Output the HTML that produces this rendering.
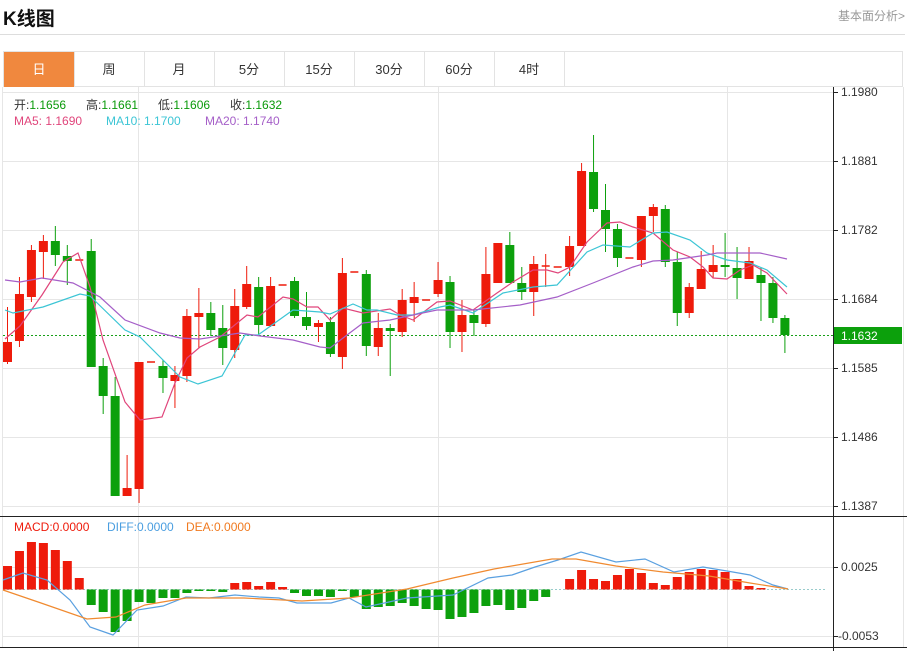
<!DOCTYPE html>
<html><head><meta charset="utf-8"><style>
body{margin:0;width:907px;height:651px;background:#fff;overflow:hidden;font-family:"Liberation Sans","Noto Sans CJK SC",sans-serif;position:relative}
.t{position:absolute;white-space:nowrap}
.tab{position:absolute;top:52px;height:35px;width:70px;line-height:35px;text-align:center;font-size:13px;color:#333;border-right:1px solid #e3e3e3}
.g{color:#0a9a0a}
</style></head><body>
<div class="t" style="left:3px;top:4px;font-size:19px;font-weight:bold;color:#111">K线图</div>
<div class="t" style="right:2px;top:7px;font-size:12px;color:#999">基本面分析&gt;</div>
<div style="position:absolute;left:0;top:34px;width:905px;height:1px;background:#ddd"></div>
<div style="position:absolute;left:3px;top:51px;width:900px;height:36px;border:1px solid #e3e3e3;box-sizing:border-box"></div>
<div class="tab" style="left:4px;background:#f0883e;color:#fff">日</div>
<div class="tab" style="left:74px">周</div>
<div class="tab" style="left:144px">月</div>
<div class="tab" style="left:214px">5分</div>
<div class="tab" style="left:284px">15分</div>
<div class="tab" style="left:354px">30分</div>
<div class="tab" style="left:424px">60分</div>
<div class="tab" style="left:494px">4时</div>
<svg id="s" width="907" height="651" style="position:absolute;left:0;top:0" xmlns="http://www.w3.org/2000/svg">
<g stroke="#e6e6e6" stroke-width="1">
<line x1="3" y1="92.5" x2="833" y2="92.5"/><line x1="3" y1="161.5" x2="833" y2="161.5"/><line x1="3" y1="230.5" x2="833" y2="230.5"/><line x1="3" y1="299.5" x2="833" y2="299.5"/><line x1="3" y1="368.5" x2="833" y2="368.5"/><line x1="3" y1="437.5" x2="833" y2="437.5"/><line x1="3" y1="506.5" x2="833" y2="506.5"/>
<line x1="3" y1="567.5" x2="833" y2="567.5"/><line x1="3" y1="636.5" x2="833" y2="636.5"/>
<line x1="138.5" y1="87" x2="138.5" y2="647"/><line x1="438.5" y1="87" x2="438.5" y2="647"/><line x1="727.5" y1="87" x2="727.5" y2="647"/>
<line x1="2.5" y1="87" x2="2.5" y2="647"/><line x1="903.5" y1="87" x2="903.5" y2="647"/>
</g>
<line x1="833.5" y1="87" x2="833.5" y2="651" stroke="#222"/>
<line x1="0" y1="516.5" x2="907" y2="516.5" stroke="#222"/>
<line x1="0" y1="647.5" x2="907" y2="647.5" stroke="#222"/>
<g stroke="#222"><line x1="833" y1="92.5" x2="838" y2="92.5"/><line x1="833" y1="161.5" x2="838" y2="161.5"/><line x1="833" y1="230.5" x2="838" y2="230.5"/><line x1="833" y1="299.5" x2="838" y2="299.5"/><line x1="833" y1="368.5" x2="838" y2="368.5"/><line x1="833" y1="437.5" x2="838" y2="437.5"/><line x1="833" y1="506.5" x2="838" y2="506.5"/><line x1="833" y1="567.5" x2="838" y2="567.5"/><line x1="833" y1="636.5" x2="838" y2="636.5"/></g>
<g font-size="12" fill="#333" font-family="Liberation Sans,sans-serif">
<text x="841" y="96">1.1980</text><text x="841" y="165">1.1881</text><text x="841" y="234">1.1782</text><text x="841" y="303">1.1684</text><text x="841" y="372">1.1585</text><text x="841" y="441">1.1486</text><text x="841" y="510">1.1387</text><text x="841" y="571">0.0025</text><text x="838" y="640">-0.0053</text>
</g>
<line x1="3" y1="335.5" x2="833" y2="335.5" stroke="#18a018" stroke-dasharray="2,2"/>
<line x1="3" y1="589.5" x2="826" y2="589.5" stroke="#9cc" stroke-dasharray="2,2"/>
<rect x="834" y="327" width="68" height="17" fill="#0ca00c"/>
<text x="841" y="340" font-size="12" fill="#fff">1.1632</text>
<g id="c"></g><g id="m"></g>
</svg>
<div class="t" style="left:14px;top:96px;font-size:12px;color:#333">开:<span class="g">1.1656</span></div>
<div class="t" style="left:86px;top:96px;font-size:12px;color:#333">高:<span class="g">1.1661</span></div>
<div class="t" style="left:158px;top:96px;font-size:12px;color:#333">低:<span class="g">1.1606</span></div>
<div class="t" style="left:230px;top:96px;font-size:12px;color:#333">收:<span class="g">1.1632</span></div>
<div class="t" style="left:14px;top:114px;font-size:12px;color:#e0457b">MA5: 1.1690</div>
<div class="t" style="left:106px;top:114px;font-size:12px;color:#3cc5d5">MA10: 1.1700</div>
<div class="t" style="left:205px;top:114px;font-size:12px;color:#a55fc8">MA20: 1.1740</div>
<div class="t" style="left:14px;top:520px;font-size:12px;color:#ee1b0b">MACD:0.0000</div>
<div class="t" style="left:107px;top:520px;font-size:12px;color:#4a9ee0">DIFF:0.0000</div>
<div class="t" style="left:186px;top:520px;font-size:12px;color:#f07a20">DEA:0.0000</div>
<script>
var R="#ee1b0b",G="#0ca00c";
var C=[["r",342,362,307,364],["r",294,341,277,347],["r",250,297,245,302],["r",241,252,235,279],["g",241,255,226,266],["g",256,261,245,285],["d",260],["g",251,367,239,367],["g",366,396,358,414],["g",396,496,377,496],["r",488,496,455,496],["r",362,489,362,503],["d",362],["g",366,378,360,393],["r",375,381,366,408],["r",316,376,309,382],["r",313,317,288,348],["g",313,330,302,336],["g",328,348,305,365],["r",306,350,289,358],["r",284,307,266,309],["g",287,325,277,335],["r",286,326,277,327],["d",285],["g",281,316,277,318],["g",317,326,292,330],["r",323,327,320,342],["g",322,354,317,357],["r",273,357,258,369],["d",272],["g",274,346,270,356],["r",328,347,313,356],["g",328,331,324,376],["r",300,332,289,337],["r",297,303,282,322],["d",300],["r",280,294,262,297],["g",282,332,276,348],["r",315,332,300,352],["g",315,323,310,336],["r",274,324,247,327],["r",243,283,243,283],["g",245,283,232,283],["g",283,292,267,300],["r",264,292,256,316],["d",266,254,287],["d",267],["r",246,267,236,276],["r",171,246,163,246],["g",172,209,135,212],["g",210,229,184,252],["g",229,258,224,267],["d",258],["r",216,260,216,267],["r",207,216,204,232],["g",209,262,205,267],["g",262,313,252,326],["r",287,313,283,318],["r",269,289,251,289],["r",265,272,245,278],["g",265,267,233,277],["g",268,278,247,299],["r",261,279,247,279],["g",275,283,267,321],["g",283,318,277,323],["g",318,335,315,353]];
var M=[566,551,542,543,550,561,578,605,612,632,621,602,603,598,598,593,591,591,592,583,582,586,582,587,593,596,596,597,591,597,609,607,606,603,606,609,610,619,617,613,606,605,610,608,601,597,589.5,579,570,579,581,575,569,573,583,585,577,572,569,570,572,579,586,588,589,589];
var h="";function X(i){return 7.5+i*11.96}
C.forEach(function(c,i){var x=X(i);
 if(c[0]=="d"){h+='<line x1="'+(x-4)+'" x2="'+(x+4)+'" y1="'+c[1]+'" y2="'+c[1]+'" stroke="'+R+'" stroke-width="1.5"/>';if(c[2])h+='<line x1="'+x+'" x2="'+x+'" y1="'+c[2]+'" y2="'+c[3]+'" stroke="'+R+'"/>';return;}
 var col=c[0]=="r"?R:G;
 h+='<line x1="'+x+'" x2="'+x+'" y1="'+c[3]+'" y2="'+c[4]+'" stroke="'+col+'"/>';
 h+='<rect x="'+(x-4.5)+'" y="'+c[1]+'" width="9" height="'+Math.max(2,c[2]-c[1])+'" fill="'+col+'"/>';});
M.forEach(function(v,i){var x=X(i);var y=Math.min(v,589.5),hh=Math.abs(v-589.5);if(hh<0.6)return;
 h+='<rect x="'+(x-4.5)+'" y="'+y+'" width="9" height="'+hh+'" fill="'+(v<589.5?R:G)+'"/>';});
document.getElementById("c").innerHTML=h;
function P(a,col){return '<polyline fill="none" stroke="'+col+'" stroke-width="1.2" points="'+a+'"/>'}
var ma5="5,339 20,326 42,295 63,262 78,253 90,287 103,340 125,402 140,420 162,417 175,383 187,358 200,347 220,337 247,315 258,317 283,297 293,299 307,307 318,307 330,320 343,308 363,313 390,309 400,315 413,320 437,302 450,301 473,310 497,293 513,282 533,270 547,270 558,273 570,267 587,242 607,223 620,222 633,227 653,233 673,250 690,257 703,267 713,278 727,279 740,270 753,265 767,273 787,294";
var ma10="5,310 13,313 43,307 80,294 90,296 125,330 140,337 180,377 198,384 222,376 245,335 258,335 293,310 320,312 330,314 353,304 367,310 377,310 397,315 413,315 440,307 450,305 473,313 503,293 533,287 557,285 587,252 603,245 630,247 653,233 667,232 690,240 707,253 727,260 750,263 767,270 787,287";
var ma20="5,280 20,282 42,278 73,283 100,297 125,320 160,333 180,338 200,339 240,333 260,336 293,340 320,347 330,348 347,335 363,323 390,320 413,315 437,310 473,310 520,305 557,297 593,283 633,267 653,261 673,260 707,255 717,253 760,253 787,259";
var dif="3,580 23,573 47,580 70,600 90,627 113,635 137,610 163,606 186,597 209,598 235,595 259,597 279,598 297,603 331,603 349,598 366,607 407,598 453,595 488,578 512,575 535,567 558,560 581,552 616,562 645,559 674,572 703,567 727,571 750,575 773,585 788,589";
var dea="3,590 41,603 87,619 116,617 145,605 186,598 244,598 302,601 349,598 407,589 453,578 494,569 552,559 576,559 616,566 663,572 709,576 750,583 788,589";
document.getElementById("m").innerHTML=P(ma5,"#e0457b")+P(ma10,"#3cc5d5")+P(ma20,"#a55fc8")+P(dif,"#5aa0e0")+P(dea,"#f08a30");
</script>
</body></html>
